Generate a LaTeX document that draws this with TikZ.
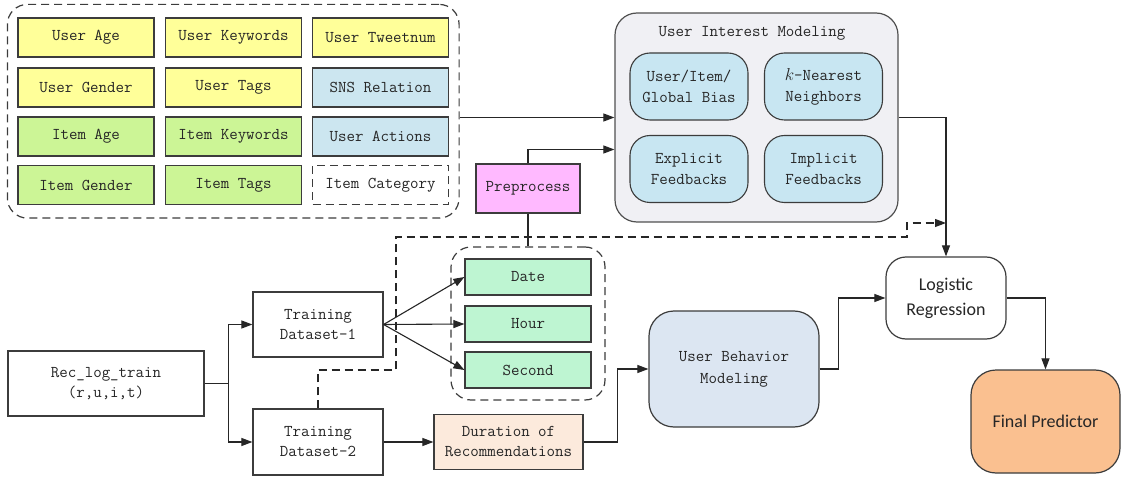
\documentclass[tikz,border=0pt]{standalone}
\usepackage{fontspec}
\newfontfamily\calibrifont{Carlito}
\usetikzlibrary{arrows.meta,fit}
\definecolor{edgegray}{RGB}{60,60,60}
\definecolor{useryellow}{RGB}{255,255,153}
\definecolor{itemgreen}{RGB}{204,245,150}
\definecolor{snsblue}{RGB}{204,230,240}
\definecolor{panelgray}{RGB}{240,240,244}
\definecolor{methodblue}{RGB}{200,230,242}
\definecolor{prepink}{RGB}{255,185,255}
\definecolor{timegreen}{RGB}{190,245,210}
\definecolor{durpeach}{RGB}{252,234,220}
\definecolor{behavblue}{RGB}{220,230,242}
\definecolor{finalorange}{RGB}{250,192,144}

\begin{document}
\begin{tikzpicture}[
    x=1pt, y=-1pt,
    mono/.style={font=\ttfamily\fontsize{16.5}{20}\selectfont, text=black!85},
    feat/.style={mono, rectangle, draw=edgegray, line width=1.2pt, minimum width=136pt, minimum height=39pt, inner sep=0pt},
    plainbox/.style={mono, rectangle, draw=edgegray, line width=1.2pt, fill=white, align=center, inner sep=0pt},
    method/.style={mono, rectangle, draw=edgegray, line width=1.1pt, fill=methodblue, rounded corners=20pt, minimum width=118pt, minimum height=67pt, align=center, inner sep=0pt, font=\ttfamily\fontsize{16.5}{21}\selectfont},
    timebox/.style={feat, fill=timegreen, minimum width=126pt, minimum height=36pt},
    group/.style={draw=edgegray, line width=1.2pt, dash pattern=on 8pt off 5pt, rounded corners=20pt},
    arrow/.style={-{Triangle[length=11pt,width=8pt]}, line width=1.1pt, draw=black!85},
    dasharrow/.style={arrow, dash pattern=on 8pt off 5pt}
]
    \useasboundingbox (0,0) rectangle (1122,481);

    % Feature grid
    \node[feat, fill=useryellow] (uage) at (86,37.5) {User Age};
    \node[feat, fill=useryellow] (ukey) at (233.5,37.5) {User Keywords};
    \node[feat, fill=useryellow] (utweet) at (380.5,37.5) {User Tweetnum};
    \node[feat, fill=useryellow] (ugender) at (86,87.5) {User Gender};
    \node[feat, fill=useryellow] (utags) at (233.5,87.5) {User Tags};
    \node[feat, fill=snsblue] (sns) at (380.5,87.5) {SNS Relation};
    \node[feat, fill=itemgreen] (iage) at (86,136.5) {Item Age};
    \node[feat, fill=itemgreen] (ikey) at (233.5,136.5) {Item Keywords};
    \node[feat, fill=snsblue] (uact) at (380.5,136.5) {User Actions};
    \node[feat, fill=itemgreen] (igender) at (86,185) {Item Gender};
    \node[feat, fill=itemgreen] (itags) at (233.5,185) {Item Tags};
    \node[feat, fill=white, dash pattern=on 8pt off 5pt] (icat) at (380.5,185) {Item Category};
    \node[group, fit=(uage)(icat), inner xsep=10pt, inner ysep=13pt] (grid) {};

    % User Interest Modeling
    \node[mono, rectangle, draw=edgegray!90, line width=1.2pt, fill=panelgray, rounded corners=22pt, minimum width=283pt, minimum height=209pt] (uim) at (756.5,117.5) {};
    \node[mono] (uimtitle) at (752,33) {User Interest Modeling};
    \node[method] (bias) at (689,86.5) {User/Item/\\Global Bias};
    \node[method] (knn) at (823.5,86.5) {$k$-Nearest\\Neighbors};
    \node[method] (expl) at (689,169) {Explicit\\Feedbacks};
    \node[method] (impl) at (823.5,169) {Implicit\\Feedbacks};

    % Preprocess
    \node[plainbox, fill=prepink, minimum width=104pt, minimum height=49pt] (pre) at (528,188.5) {Preprocess};

    % Training data
    \node[plainbox, minimum width=196pt, minimum height=65pt] (rec) at (106,383.5) {Rec\_log\_train\\(r,u,i,t)};
    \node[plainbox, minimum width=130pt, minimum height=65pt] (td1) at (318,324.5) {Training\\Dataset-1};
    \node[plainbox, minimum width=130pt, minimum height=66pt] (td2) at (318,442) {Training\\Dataset-2};

    % Time features
    \node[timebox] (date) at (528,277) {Date};
    \node[timebox] (hour) at (528,324) {Hour};
    \node[timebox] (second) at (528,370) {Second};
    \node[group, minimum width=154pt, minimum height=153pt] (tgroup) at (528,323.5) {};

    \node[plainbox, fill=durpeach, minimum width=149pt, minimum height=55pt] (dur) at (508.5,442) {Duration of\\Recommendations};

    % Models and output
    \node[plainbox, fill=behavblue, rounded corners=25pt, minimum width=170pt, minimum height=116pt, font=\ttfamily\fontsize{16.5}{22}\selectfont] (ubm) at (734,369) {User Behavior\\Modeling};
    \node[plainbox, rounded corners=20pt, minimum width=120pt, minimum height=82pt, font=\calibrifont\fontsize{18}{25}\selectfont] (lr) at (946,298) {Logistic\\Regression};
    \node[plainbox, fill=finalorange, rounded corners=25pt, minimum width=149pt, minimum height=103pt, font=\calibrifont\fontsize{18}{22}\selectfont] (fp) at (1045.5,421.5) {Final Predictor};

    % Connections
    \draw[arrow] (grid.east |- uim.west) -- (uim.west);
    \draw[arrow] (pre.north) |- ([yshift=-32pt]uim.west);
    \draw[line width=1.1pt, black!85] (pre.south) -- (tgroup.north);
    \draw[arrow] (uim.east) -| (lr.north);
    \draw[dasharrow] (td2.north) |- (396,370) |- (907,237) |- (lr.north |- 0,223);
    \draw[arrow] (rec.east) -- ++(24,0) |- (td1.west);
    \draw[arrow] (rec.east) -- ++(24,0) |- (td2.west);
    \draw[arrow] (td1.east) -- (date.west);
    \draw[arrow] (td1.east) -- (hour.west);
    \draw[arrow] (td1.east) -- (second.west);
    \draw[arrow] (td2.east) -- (dur.west);
    \draw[arrow] (dur.east) -- ++(34,0) |- (ubm.west);
    \draw[arrow] (ubm.east) -- ++(19,0) |- (lr.west);
    \draw[arrow] (lr.east) -| (fp.north);
\end{tikzpicture}
\end{document}
